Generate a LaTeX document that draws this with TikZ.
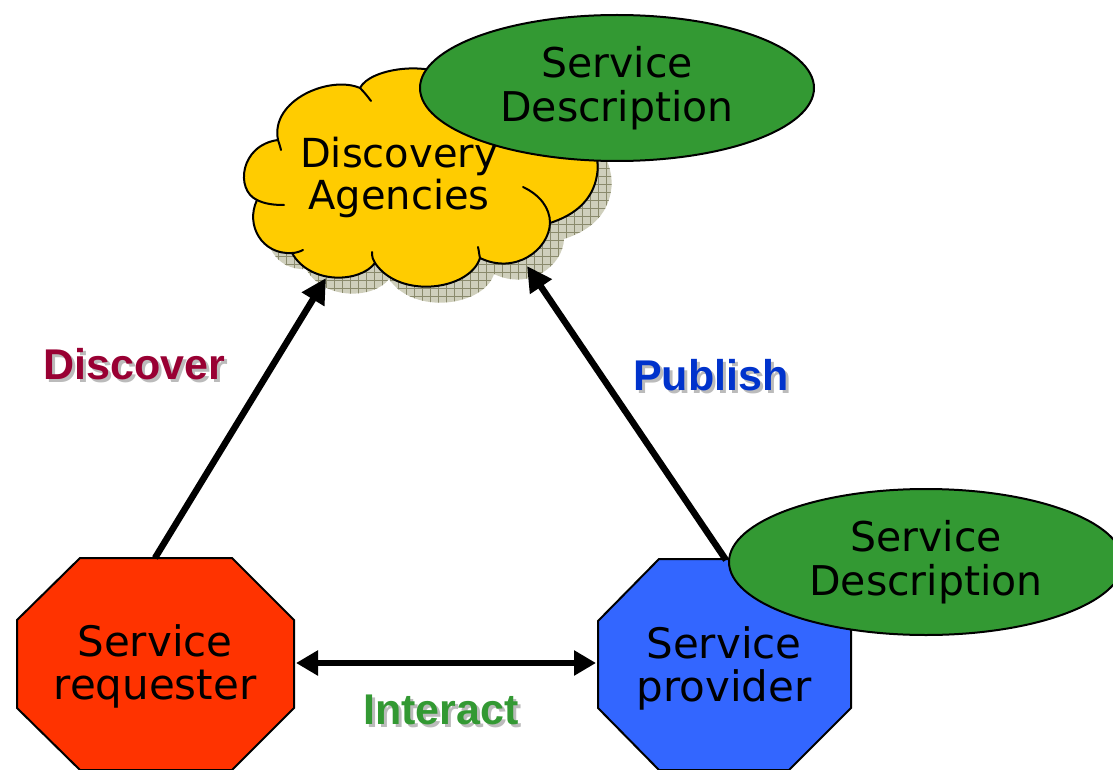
\documentclass[tikz,border=0pt]{standalone}
\usepackage{fontspec}
\setmainfont{DejaVu Sans}
\newfontfamily\lblfont{Liberation Sans}
\usetikzlibrary{shapes.geometric,arrows.meta}
\definecolor{cyellow}{HTML}{FFCC00}
\definecolor{cgreen}{HTML}{339933}
\definecolor{cred}{HTML}{FF3300}
\definecolor{cblue}{HTML}{3366FF}
\definecolor{discol}{HTML}{990033}
\definecolor{pubcol}{HTML}{0033CC}
\definecolor{intcol}{HTML}{339933}
\definecolor{shadowtxt}{HTML}{BBBBBB}
\definecolor{shadowfill}{HTML}{CFCFBC}
\definecolor{gridcol}{HTML}{8A8A6C}
\newcommand{\shadowtext}[1]{\rlap{\kern3pt\raisebox{-3pt}{\color{shadowtxt}#1}}#1}
\def\cloudpath{(360,88) .. controls (370,68) and (430,60) .. (455,80)
  .. controls (540,60) and (605,130) .. (597,175)
  .. controls (593,200) and (575,215) .. (550,223)
  .. controls (549,250) and (515,275) .. (480,258)
  .. controls (470,290) and (400,300) .. (375,263)
  .. controls (360,283) and (310,285) .. (292,253)
  .. controls (262,255) and (245,225) .. (257,200)
  .. controls (235,190) and (240,145) .. (278,140)
  .. controls (270,100) and (330,75) .. (360,88) -- cycle}
\begin{document}
\begin{tikzpicture}[x=1pt,y=-1pt,
  outline/.style={draw=black, line width=2pt},
  desc/.style={ellipse, outline, fill=cgreen, inner sep=0pt, align=center,
     minimum width=394pt, minimum height=146pt, font=\fontsize{41}{44}\selectfont},
  octtext/.style={align=center, font=\fontsize{42}{43}\selectfont},
  lbl/.style={anchor=base west, inner sep=0pt, font=\lblfont\bfseries\fontsize{43}{50}\selectfont},
  conn/.style={line width=6.5pt, -{Triangle[length=25pt,width=25pt]}},
  conn2/.style={line width=6.5pt, {Triangle[length=22pt,width=24pt]}-{Triangle[length=22pt,width=24pt]}},
  innerarc/.style={draw=black, line width=2pt, line cap=round},
  gridline/.style={draw=gridcol, line width=0.8pt}
]
\useasboundingbox (0,0) rectangle (1113,770);

% cloud shadow (checkered)
\begin{scope}[shift={(14,16)}]
  \begin{scope}
    \clip \cloudpath;
    \fill[shadowfill] (230,60) rectangle (620,320);
    \foreach \gx in {232,240,...,616} {\draw[gridline] (\gx,60) -- (\gx,320);}
    \foreach \gy in {64,72,...,316} {\draw[gridline] (230,\gy) -- (620,\gy);}
  \end{scope}
\end{scope}
% cloud
\filldraw[outline, fill=cyellow, line join=round] \cloudpath;
% inner arcs of the cloud
\draw[innerarc] (360,88) .. controls (365,93) and (368,97) .. (371,101);
\draw[innerarc] (278,140) .. controls (279,143) and (280,146) .. (281,150);
\draw[innerarc] (257,200) .. controls (265,204) and (274,205) .. (284,205);
\draw[innerarc] (292,253) .. controls (295,253) and (299,252) .. (303,250);
\draw[innerarc] (375,263) .. controls (373,260) and (372,257) .. (372,252);
\draw[innerarc] (480,258) .. controls (479,254) and (479,251) .. (478,247);
\draw[innerarc] (550,223) .. controls (550,208) and (540,195) .. (523,187);

% top service description
\node[desc] (sdtop) at (617,88) {Service\\Description};
\node[align=center, font=\fontsize{40}{42}\selectfont] (cloudtext) at (399,177) {Discovery\\Agencies};

% octagons
\coordinate (reqtop) at (155,558);
\coordinate (reqright) at (296,663);
\coordinate (provtop) at (726,560);
\coordinate (provleft) at (596,663);
\filldraw[outline, fill=cred] (80,558) -- (232,558) -- (294,620) -- (294,708) -- (232,770) -- (80,770) -- (17,708) -- (17,620) -- cycle;
\filldraw[outline, fill=cblue] (659,559) -- (789,559) -- (851,621) -- (851,708) -- (789,770) -- (659,770) -- (598,708) -- (598,621) -- cycle;
\node[octtext] (requester) at (155,666) {Service\\requester};
\node[octtext] (provider) at (724,668) {Service\\provider};

% connectors
\coordinate (cloudL) at (326,278);
\coordinate (cloudR) at (527,266);
\draw[conn] (reqtop) -- (cloudL);
\draw[conn] (provtop) -- (cloudR);
\draw[conn2] (reqright) -- (provleft);

% lower service description
\node[desc] (sdbottom) at (926,562) {Service\\Description};

% labels with drop shadows
\node[lbl, text=discol] (discover) at (43,379) {\shadowtext{Discover}};
\node[lbl, text=pubcol] (publish) at (633,390) {\shadowtext{Publish}};
\node[lbl, text=intcol] (interact) at (363,724) {\shadowtext{Interact}};
\end{tikzpicture}
\end{document}
